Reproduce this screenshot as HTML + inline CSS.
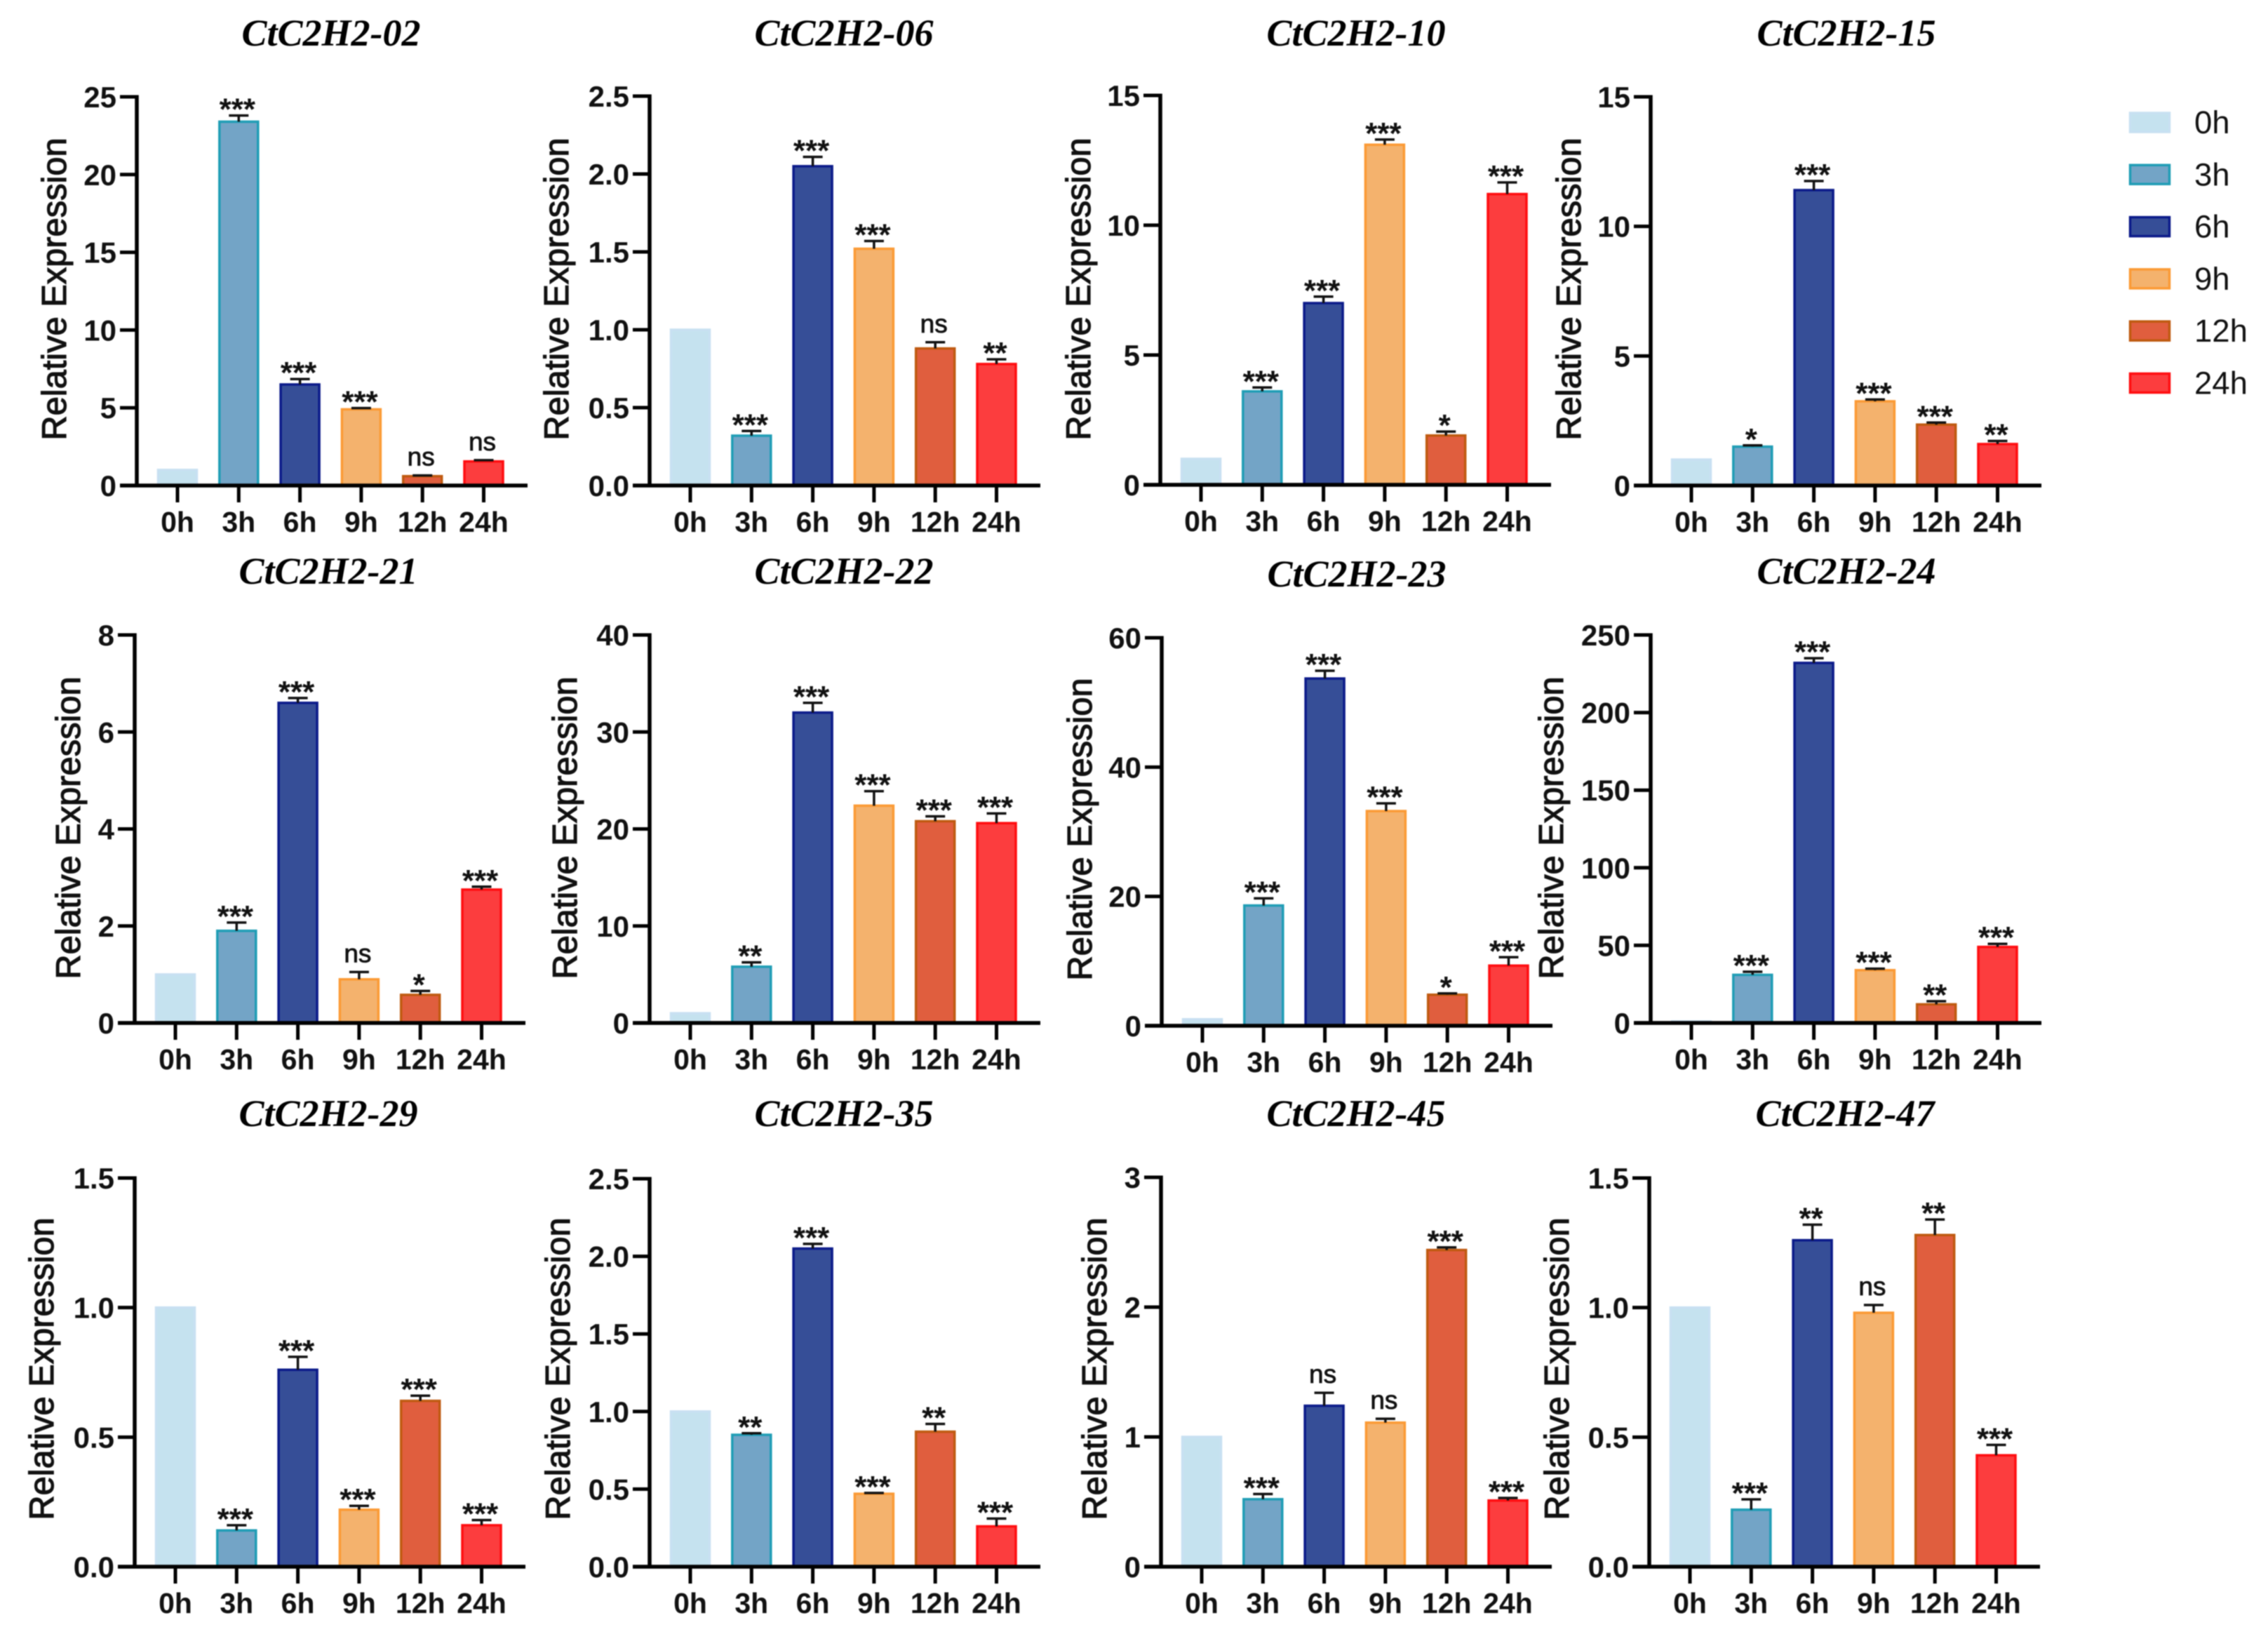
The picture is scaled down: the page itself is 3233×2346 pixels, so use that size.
<!DOCTYPE html>
<html lang="en">
<head>
<meta charset="utf-8">
<title>CtC2H2 relative expression</title>
<style>
html,body{margin:0;padding:0;background:#fff;}
body{width:3233px;height:2346px;overflow:hidden;}
svg{display:block;filter:blur(0.7px);}
text{font-family:"Liberation Sans",Arial,sans-serif;fill:#111;}
</style>
</head>
<body>
<svg id="chart" xmlns="http://www.w3.org/2000/svg" width="3233" height="2346" viewBox="0 0 3233 2346">
<rect width="3233" height="2346" fill="#fff"/>
</svg>
<script>
// ---- data ----
const categories = ['0h','3h','6h','9h','12h','24h'];
const geneNames = ['CtC2H2-02','CtC2H2-06','CtC2H2-10','CtC2H2-15','CtC2H2-21','CtC2H2-22','CtC2H2-23','CtC2H2-24','CtC2H2-29','CtC2H2-35','CtC2H2-45','CtC2H2-47'];

const values02 = [1,23.4,6.5,4.9,0.6,1.55];
const errors02 = [0,0.4,0.35,0.08,0.05,0.08];
const sig02 = ['','***','***','***','ns','ns'];
const ticks02 = ['0','5','10','15','20','25'];

const values06 = [1,0.32,2.05,1.52,0.88,0.78];
const errors06 = [0,0.03,0.06,0.05,0.04,0.03];
const sig06 = ['','***','***','***','ns','**'];
const ticks06 = ['0.0','0.5','1.0','1.5','2.0','2.5'];

const values10 = [1,3.6,7,13.1,1.9,11.2];
const errors10 = [0,0.15,0.25,0.2,0.15,0.45];
const sig10 = ['','***','***','***','*','***'];
const ticks10 = ['0','5','10','15'];

const values15 = [1,1.5,11.4,3.25,2.35,1.6];
const errors15 = [0,0.05,0.35,0.07,0.08,0.12];
const sig15 = ['','*','***','***','***','**'];
const ticks15 = ['0','5','10','15'];

const values21 = [1,1.9,6.6,0.9,0.58,2.75];
const errors21 = [0,0.17,0.1,0.15,0.08,0.06];
const sig21 = ['','***','***','ns','*','***'];
const ticks21 = ['0','2','4','6','8'];

const values22 = [1,5.8,32,22.4,20.8,20.6];
const errors22 = [0,0.45,1.0,1.5,0.5,1.0];
const sig22 = ['','**','***','***','***','***'];
const ticks22 = ['0','10','20','30','40'];

const values23 = [1,18.6,53.7,33.2,4.8,9.3];
const errors23 = [0,1.1,1.2,1.2,0.2,1.3];
const sig23 = ['','***','***','***','*','***'];
const ticks23 = ['0','20','40','60'];

const values24 = [1,31,232,34,12,49];
const errors24 = [0,2,3,1,2,2];
const sig24 = ['','***','***','***','**','***'];
const ticks24 = ['0','50','100','150','200','250'];

const values29 = [1,0.14,0.76,0.22,0.64,0.16];
const errors29 = [0,0.02,0.05,0.015,0.02,0.02];
const sig29 = ['','***','***','***','***','***'];
const ticks29 = ['0.0','0.5','1.0','1.5'];

const values35 = [1,0.85,2.05,0.47,0.87,0.26];
const errors35 = [0,0.01,0.03,0.005,0.05,0.05];
const sig35 = ['','**','***','***','**','***'];
const ticks35 = ['0.0','0.5','1.0','1.5','2.0','2.5'];

const values45 = [1,0.52,1.24,1.11,2.44,0.51];
const errors45 = [0,0.04,0.1,0.03,0.02,0.02];
const sig45 = ['','***','ns','ns','***','***'];
const ticks45 = ['0','1','2','3'];

const values47 = [1,0.22,1.26,0.98,1.28,0.43];
const errors47 = [0,0.04,0.06,0.03,0.06,0.04];
const sig47 = ['','***','**','ns','**','***'];
const ticks47 = ['0.0','0.5','1.0','1.5'];

const allValues = [values02,values06,values10,values15,values21,values22,values23,values24,values29,values35,values45,values47];
const allErrors = [errors02,errors06,errors10,errors15,errors21,errors22,errors23,errors24,errors29,errors35,errors45,errors47];
const allSig = [sig02,sig06,sig10,sig15,sig21,sig22,sig23,sig24,sig29,sig35,sig45,sig47];
const allTicks = [ticks02,ticks06,ticks10,ticks15,ticks21,ticks22,ticks23,ticks24,ticks29,ticks35,ticks45,ticks47];

// ---- style ----
const fills = ['#c5e2ef','#73a4c6','#364e97','#f4b26d','#e05e3e','#fc3d3e'];
const strokes = ['#c8e0f2','#1f9db5','#0b1a8a','#fb9a35','#bf5a10','#ff0d10'];

// ---- panel layout (x of axis, y of baseline, y of axis top, centre of y title, centre of title, title baseline) ----
const frames = [
  {ax:195,y0:692,top:138,tx:77,cy:412,hx:472,hy:65},
  {ax:926,y0:692,top:137,tx:793,cy:412,hx:1203,hy:65},
  {ax:1654,y0:691,top:136,tx:1537,cy:412,hx:1933,hy:65},
  {ax:2353,y0:692,top:138,tx:2236,cy:412,hx:2632,hy:65},
  {ax:192,y0:1458,top:905,tx:97,cy:1180,hx:468,hy:832},
  {ax:926,y0:1458,top:905,tx:805,cy:1180,hx:1203,hy:832},
  {ax:1656,y0:1462,top:909,tx:1539,cy:1182,hx:1934,hy:836},
  {ax:2353,y0:1458,top:905,tx:2211,cy:1180,hx:2632,hy:832},
  {ax:192,y0:2233,top:1679,tx:59,cy:1951,hx:468,hy:1605},
  {ax:926,y0:2233,top:1680,tx:795,cy:1951,hx:1203,hy:1605},
  {ax:1655,y0:2233,top:1678,tx:1560,cy:1951,hx:1933,hy:1605},
  {ax:2351,y0:2233,top:1679,tx:2219,cy:1951,hx:2630,hy:1605}
];
const tickOffset = 58, catStep = 87.3, axisRight = 557, barW = 55;

const NS = 'http://www.w3.org/2000/svg';
const svg = document.getElementById('chart');

function make(parent, tag, attrs, content){
  const el = document.createElementNS(NS, tag);
  for (const k in attrs) el.setAttribute(k, attrs[k]);
  if (content !== undefined) el.textContent = content;
  parent.appendChild(el);
  return el;
}

function drawPanel(i){
  const f = frames[i], vals = allValues[i], errs = allErrors[i], sigs = allSig[i], tks = allTicks[i];
  const maxV = parseFloat(tks[tks.length-1]);
  const yScale = v => f.y0 - v / maxV * (f.y0 - f.top);
  const xScale = c => f.ax + tickOffset + c * catStep;

  const g = make(svg,'g',{});
  
  

  const title = make(g,'text',{x:f.hx,y:f.hy,'text-anchor':'middle','font-size':54,'font-weight':'bold','font-style':'italic',style:'font-family:"Liberation Serif",serif;fill:#000'},geneNames[i]);
  
  

  const yTitle = make(g,'text',{x:0,y:0,'text-anchor':'middle','font-size':48.8,stroke:'#111','stroke-width':1.2,transform:'translate('+(f.tx+17)+' '+f.cy+') rotate(-90)'},'Relative Expression');
  
  

  // bars
  vals.forEach((v,c)=>{
    const x = xScale(c), yt = yScale(v);
    const bar = make(g,'rect',{x:x-barW/2,y:yt,width:barW,height:f.y0-yt,fill:fills[c],stroke:strokes[c],'stroke-width':3.5});
    
    
    if (errs[c] > 0){
      const ye = yScale(v + errs[c]);
      const whisk = make(g,'path',{d:'M'+x+' '+yt+'V'+ye+'M'+(x-14)+' '+ye+'H'+(x+14),stroke:'#111','stroke-width':3.5,fill:'none'});
      
      
    }
    if (sigs[c]){
      const ye = yScale(v + errs[c]);
      const isNs = sigs[c] === 'ns';
      const lab = make(g,'text',{x:x-2,y:isNs ? ye-14 : ye+6,'text-anchor':'middle','font-size':isNs?37:44,'font-weight':isNs?'normal':'bold',stroke:isNs?'#111':'none','stroke-width':isNs?0.8:0},sigs[c]);
      
      
    }
  });

  // axes
  const yAxis = make(g,'line',{x1:f.ax,y1:f.top-2.5,x2:f.ax,y2:f.y0+2.5,stroke:'#000','stroke-width':5.5});
  
  
  const xAxis = make(g,'line',{x1:f.ax-24,y1:f.y0,x2:f.ax+axisRight,y2:f.y0,stroke:'#000','stroke-width':5.5});
  
  

  tks.forEach(t=>{
    const y = yScale(parseFloat(t));
    const tick = make(g,'line',{x1:f.ax-24,y1:y,x2:f.ax,y2:y,stroke:'#000','stroke-width':5});
    
    
    const lab = make(g,'text',{x:f.ax-29,y:y+15,'text-anchor':'end','font-size':42,'font-weight':'bold'},t);
    
    
  });

  categories.forEach((cat,c)=>{
    const x = xScale(c);
    const tick = make(g,'line',{x1:x,y1:f.y0,x2:x,y2:f.y0+24,stroke:'#000','stroke-width':5});
    
    
    const lab = make(g,'text',{x:x,y:f.y0+66,'text-anchor':'middle','font-size':41,'font-weight':'bold'},cat);
    
    
  });
}

geneNames.forEach((_,i)=>drawPanel(i));

// legend
const legend = make(svg,'g',{});


categories.forEach((cat,c)=>{
  const y = 161 + c * 74.3;
  const sw = make(legend,'rect',{x:3036.5,y:y,width:56,height:27,fill:fills[c],stroke:strokes[c],'stroke-width':3.5});
  
  
  const lab = make(legend,'text',{x:3128,y:y+29,'font-size':45.5},cat);
  
  
});
</script>
</body>
</html>
